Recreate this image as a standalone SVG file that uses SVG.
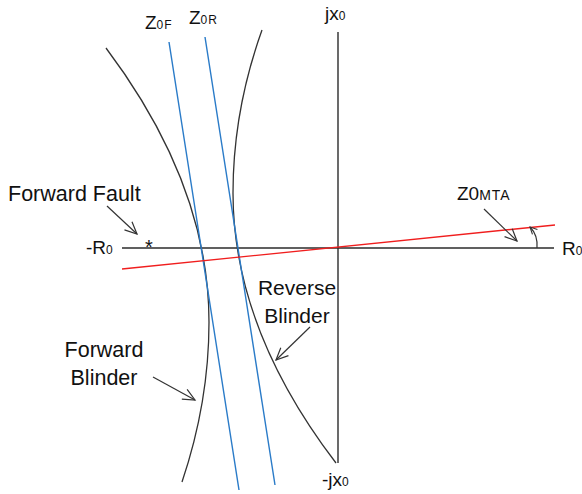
<svg xmlns="http://www.w3.org/2000/svg" width="582" height="494" viewBox="0 0 582 494">
<style>
.t{font-family:"Liberation Sans",Arial,sans-serif;fill:#111}
.ax{stroke:#2b2b2b;stroke-width:1.4;fill:none}
.cv{stroke:#333;stroke-width:1.3;fill:none}
.bl{stroke:#2a7bc8;stroke-width:1.4;fill:none}
.rd{stroke:#f01e1e;stroke-width:1.4;fill:none}
.ar{stroke:#333;stroke-width:1.2;fill:none}
</style>
<defs>
<marker id="ah" markerUnits="userSpaceOnUse" markerWidth="16" markerHeight="14" refX="13" refY="7" orient="auto">
<path d="M1,1.5 L13,7 L1,12.5" fill="none" stroke="#333" stroke-width="1.2"/>
</marker>
<marker id="ahs" markerUnits="userSpaceOnUse" markerWidth="10" markerHeight="10" refX="8" refY="5" orient="auto">
<path d="M1,1.5 L8,5 L1,8.5" fill="none" stroke="#333" stroke-width="1.1"/>
</marker>
</defs>
<rect width="582" height="494" fill="#fff"/>
<g id="axes">
<line class="ax" x1="122" y1="248" x2="554" y2="248"/>
<line class="ax" x1="338" y1="32" x2="338" y2="463"/>
</g>
<g id="forward-blinder">
<path class="cv" d="M106,48 Q209,185 209,322 Q209,402 182,482"/>
</g>
<g id="reverse-blinder">
<path class="cv" d="M262,30 Q233,111 233,193 Q233,328 336,463"/>
</g>
<g id="z0f">
<line class="bl" x1="169" y1="42" x2="239" y2="490"/>
</g>
<g id="z0r">
<line class="bl" x1="205" y1="37" x2="275" y2="485"/>
</g>
<g id="z0mta">
<line class="rd" x1="122" y1="269" x2="555" y2="225"/>
</g>
<g id="labels">
<text class="t" x="145" y="29" font-size="19">Z<tspan font-size="12" letter-spacing="1">0F</tspan></text>
<text class="t" x="189" y="24" font-size="19">Z<tspan font-size="12" letter-spacing="1">0R</tspan></text>
<text class="t" x="325" y="20" font-size="19">jx<tspan font-size="12">0</tspan></text>
<text class="t" x="322" y="486" font-size="19">-jx<tspan font-size="12">0</tspan></text>
<text class="t" x="8" y="201" font-size="21.5">Forward Fault</text>
<text class="t" x="86" y="254" font-size="19">-R<tspan font-size="12">0</tspan></text>
<text class="t" x="562" y="255" font-size="19">R<tspan font-size="12">0</tspan></text>
<text class="t" x="149" y="254" font-size="20" text-anchor="middle">*</text>
<text class="t" x="457" y="200" font-size="19">Z0<tspan font-size="14" letter-spacing="1">MTA</tspan></text>
<text class="t" x="297" y="295" font-size="21" text-anchor="middle">Reverse</text>
<text class="t" x="297" y="323" font-size="21" text-anchor="middle">Blinder</text>
<text class="t" x="104" y="357" font-size="21.5" text-anchor="middle">Forward</text>
<text class="t" x="104" y="385" font-size="21.5" text-anchor="middle">Blinder</text>
</g>
<g id="connectors">
<line class="ar" x1="107" y1="206" x2="137" y2="234" marker-end="url(#ah)"/>
<line class="ar" x1="484" y1="209" x2="517" y2="241" marker-end="url(#ah)"/>
<line class="ar" x1="310" y1="327" x2="276" y2="360" marker-end="url(#ah)"/>
<line class="ar" x1="153" y1="377" x2="195" y2="400" marker-end="url(#ah)"/>
<path class="ar" d="M537,248 Q538,235 530,227" marker-end="url(#ahs)"/>
</g>
</svg>
